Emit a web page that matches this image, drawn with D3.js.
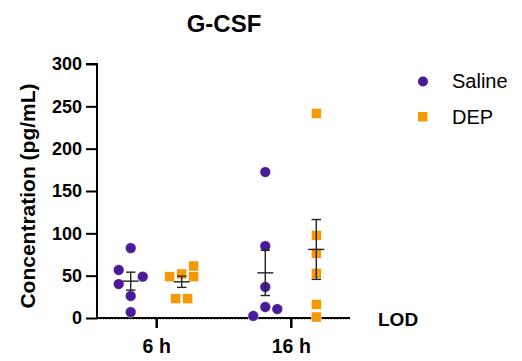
<!DOCTYPE html>
<html>
<head>
<meta charset="utf-8">
<script src="https://cdn.jsdelivr.net/npm/d3@7"></script>
<style>
  body { margin: 0; background: #fff; }
  text { font-family: "Liberation Sans", Arial, sans-serif; }
</style>
</head>
<body>
<div id="chart"></div>
<script>
// values (pg/mL)
const timepoints = ["6 h", "16 h"];
const groups = ["Saline", "DEP"];
const saline6 = [82.6, 56.7, 48.8, 40.1, 26, 7];
const dep6 = [61.4, 52, 48.8, 48.8, 22.8, 22.8];
const saline16 = [172.4, 85, 36.6, 13, 10.6, 2.4];
const dep16 = [241.6, 97.6, 76.4, 52.8, 16.2, 1.2];
const yTicks = [0, 50, 100, 150, 200, 250, 300];

// horizontal spread slots of the scatter (how Prism nudged overlapping points)
const spread = {
    "Saline|6 h": [0, -2, 2, -2, 0, 0],
    "DEP|6 h": [2, 0, -2, 2, -1, 1],
    "Saline|16 h": [0, 0, 0, 0, 2, -2],
    "DEP|16 h": [0, 0, 0, 0, 0, 0]
};

const colors = { "Saline": "#4b1a97", "DEP": "#f59a06" };

const series = [
    { group: "Saline", time: "6 h", values: saline6 },
    { group: "DEP", time: "6 h", values: dep6 },
    { group: "Saline", time: "16 h", values: saline16 },
    { group: "DEP", time: "16 h", values: dep16 }
];

const width = 522, height = 361;
const svg = d3.select("#chart")
    .append("svg")
    .attr("width", width)
    .attr("height", height);

const x = d3.scalePoint()
    .domain(timepoints)
    .range([97, 350])
    .padding(0.44);

const sub = d3.scalePoint()
    .domain(groups)
    .range([-25.5, 25.5]);

const y = d3.scaleLinear()
    .domain([0, 300])
    .range([318, 64]);

// title
svg.append("text")
    .attr("x", 224)
    .attr("y", 32)
    .attr("text-anchor", "middle")
    .attr("font-size", "24px")
    .attr("font-weight", "bold")
    .text("G-CSF");

// LOD line at zero (mostly hidden under the axis)
svg.append("line")
    .attr("x1", 97).attr("x2", 350)
    .attr("y1", y(0) + 1.5).attr("y2", y(0) + 1.5)
    .attr("stroke", "#aaa")
    .attr("stroke-width", 1)
    .attr("stroke-dasharray", "1,2");

// y axis
const yAxis = svg.append("g")
    .attr("transform", "translate(97,0)")
    .call(d3.axisLeft(y).tickValues(yTicks).tickSize(11).tickPadding(4));
yAxis.select(".domain").attr("stroke-width", 2).attr("d", "M-11,64H0V318");
yAxis.selectAll(".tick line").attr("stroke-width", 2);
yAxis.selectAll(".tick text")
    .attr("font-size", "18px")
    .attr("font-weight", "bold")
    .attr("font-family", "Liberation Sans, Arial, sans-serif")
    .attr("fill", "#000");

svg.append("text")
    .attr("transform", "translate(35,196) rotate(-90)")
    .attr("text-anchor", "middle")
    .attr("font-size", "21px")
    .attr("font-weight", "bold")
    .text("Concentration (pg/mL)");

// x axis
const xAxis = svg.append("g")
    .attr("transform", "translate(0,318)")
    .call(d3.axisBottom(x).tickSize(10).tickPadding(6));
xAxis.select(".domain").attr("stroke-width", 2).attr("d", "M97,0H350");
xAxis.selectAll(".tick line").attr("stroke-width", 2.5);
xAxis.selectAll(".tick text")
    .attr("font-size", "19.5px")
    .attr("font-weight", "bold")
    .attr("font-family", "Liberation Sans, Arial, sans-serif")
    .attr("fill", "#000")
    .attr("dy", "0.95em");

svg.append("text")
    .attr("x", 378)
    .attr("y", 326)
    .attr("font-size", "19px")
    .attr("font-weight", "bold")
    .text("LOD");

// points
const slot = 6;
const plot = svg.append("g");
series.forEach(s => {
    const cx = x(s.time) + sub(s.group);
    const offs = spread[s.group + "|" + s.time];
    const pts = s.values.map((v, i) => ({ v: v, dx: offs[i] * slot }));
    if (s.group === "Saline") {
        plot.selectAll(null)
            .data(pts)
            .join("circle")
            .attr("cx", d => cx + d.dx)
            .attr("cy", d => y(d.v))
            .attr("r", 5.4)
            .attr("fill", colors[s.group])
            .attr("stroke", "#fff")
            .attr("stroke-width", 0.5);
    } else {
        plot.selectAll(null)
            .data(pts)
            .join("rect")
            .attr("x", d => cx + d.dx - 5)
            .attr("y", d => y(d.v) - 5)
            .attr("width", 10)
            .attr("height", 10)
            .attr("fill", colors[s.group])
            .attr("stroke", "#fff")
            .attr("stroke-width", 0.5);
    }
});

// mean +/- SEM
series.forEach(s => {
    const cx = x(s.time) + sub(s.group);
    const m = d3.mean(s.values);
    const sem = d3.deviation(s.values) / Math.sqrt(s.values.length);
    const g = svg.append("g").attr("stroke", "#222").attr("stroke-width", 1.4);
    g.append("line").attr("x1", cx - 8).attr("x2", cx + 8)
        .attr("y1", y(m)).attr("y2", y(m));
    g.append("line").attr("x1", cx).attr("x2", cx)
        .attr("y1", y(m - sem)).attr("y2", y(m + sem));
    [m - sem, m + sem].forEach(v => {
        g.append("line").attr("x1", cx - 4.7).attr("x2", cx + 4.7)
            .attr("y1", y(v)).attr("y2", y(v));
    });
});

// legend
const legend = svg.append("g");
legend.append("circle")
    .attr("cx", 423).attr("cy", 81.5).attr("r", 5)
    .attr("fill", colors["Saline"]);
legend.append("rect")
    .attr("x", 418).attr("y", 112).attr("width", 9.5).attr("height", 9.5)
    .attr("fill", colors["DEP"]);
legend.selectAll("text.lg")
    .data(groups)
    .join("text")
    .attr("class", "lg")
    .attr("x", 452)
    .attr("y", (d, i) => 88 + i * 35.5)
    .attr("font-size", "20px")
    .text(d => d);
</script>
</body>
</html>
